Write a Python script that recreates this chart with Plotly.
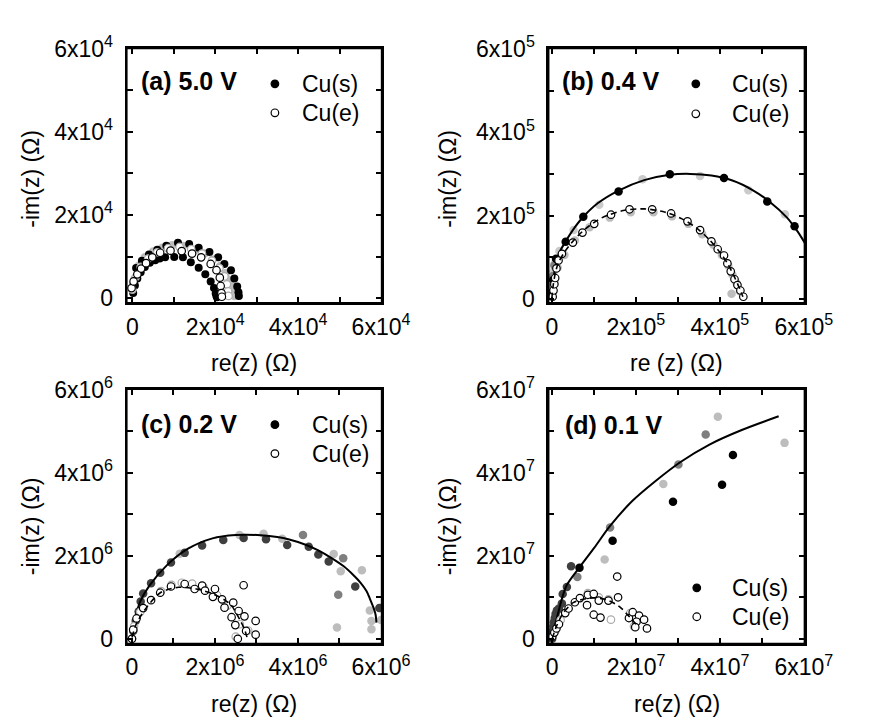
import plotly.graph_objects as go

FONT = "Liberation Sans, Arial, Helvetica, sans-serif"

# ---------------- Panel (a) 5.0 V  (values in units of 1e4 ohm) ----------------
a_scale = 1e4
a_s1_x = [0.02, 0.06, 0.12, 0.20, 0.30, 0.42, 0.55, 0.66, 0.79, 1.01, 1.22, 1.41, 1.60, 1.76, 1.89, 1.97, 2.01, 2.03, 2.04]
a_s1_y = [0.12, 0.30, 0.47, 0.62, 0.75, 0.85, 0.91, 0.95, 0.98, 0.99, 0.98, 0.86, 0.73, 0.57, 0.40, 0.24, 0.11, 0.05, 0.02]
a_s2_x = [0.03, 0.09, 0.23, 0.40, 0.60, 0.82, 1.10, 1.37, 1.60, 1.86, 2.07, 2.22, 2.38, 2.46, 2.53, 2.56, 2.57]
a_s2_y = [0.35, 0.72, 0.90, 1.05, 1.16, 1.26, 1.33, 1.30, 1.21, 1.11, 0.98, 0.82, 0.67, 0.47, 0.28, 0.14, 0.05]
a_s3_x = [0.05, 0.15, 0.30, 0.50, 0.72, 0.96, 1.22, 1.53, 1.74, 1.94, 2.12, 2.26, 2.36, 2.42, 2.45, 2.46]
a_s3_y = [0.45, 0.78, 0.98, 1.12, 1.21, 1.27, 1.25, 1.17, 1.07, 0.93, 0.77, 0.60, 0.43, 0.27, 0.14, 0.05]
a_e2_x = [0.00, 0.08, 0.20, 0.38, 0.60, 0.86, 1.14, 1.42, 1.68, 1.92, 2.10, 2.22, 2.28, 2.31, 2.32]
a_e2_y = [0.20, 0.50, 0.75, 0.95, 1.10, 1.20, 1.23, 1.18, 1.07, 0.90, 0.72, 0.52, 0.33, 0.16, 0.05]
a_e1_x = [-0.02, 0.03, 0.12, 0.21, 0.33, 0.48, 0.67, 0.92, 1.19, 1.44, 1.66, 1.89, 2.03, 2.11, 2.13, 2.15, 2.16]
a_e1_y = [0.24, 0.40, 0.57, 0.71, 0.84, 0.98, 1.09, 1.14, 1.13, 1.07, 0.98, 0.82, 0.67, 0.49, 0.29, 0.12, 0.03]

# ---------------- Panel (b) 0.4 V  (units of 1e5 ohm) ----------------
b_scale = 1e5
b_s1_x = [0.01, 0.03, 0.10, 0.33, 0.75, 1.59, 2.81, 4.10, 5.13, 5.78]
b_s1_y = [0.15, 0.45, 0.96, 1.37, 1.97, 2.58, 2.99, 2.90, 2.34, 1.74]
b_s2_x = [0.00, 0.01, 0.02, 0.04, 0.07, 0.18, 0.52, 1.13, 2.16, 3.53, 4.68, 5.55]
b_s2_y = [0.05, 0.25, 0.45, 0.65, 0.85, 1.15, 1.65, 2.26, 2.87, 2.95, 2.61, 2.03]
b_s3_x = [0.00, 0.01, 0.03, 0.06]
b_s3_y = [0.10, 0.30, 0.55, 0.80]
b_e2_x = [0.03, 0.07, 0.14, 0.30, 0.55, 0.90, 1.38, 1.88, 2.42, 2.86, 3.25, 3.58, 3.85, 4.05, 4.20, 4.30, 4.40, 4.48, 4.28]
b_e2_y = [0.15, 0.40, 0.75, 1.05, 1.40, 1.72, 1.95, 2.08, 2.08, 1.98, 1.80, 1.55, 1.30, 1.05, 0.80, 0.58, 0.38, 0.18, 0.12]
b_e1_x = [0.02, 0.04, 0.06, 0.08, 0.11, 0.16, 0.24, 0.50, 0.73, 1.01, 1.41, 1.85, 2.39, 2.84, 3.23, 3.53, 3.80, 3.95, 4.10, 4.18, 4.26, 4.35, 4.42, 4.49, 4.56]
b_e1_y = [0.05, 0.20, 0.35, 0.50, 0.73, 0.92, 1.08, 1.35, 1.59, 1.80, 2.02, 2.15, 2.15, 2.05, 1.86, 1.65, 1.38, 1.19, 1.04, 0.85, 0.66, 0.47, 0.33, 0.20, 0.05]
b_fit_s_x = [0.00, 0.03, 0.10, 0.20, 0.33, 0.50, 0.75, 1.10, 1.59, 2.20, 2.81, 3.30, 3.80, 4.30, 4.80, 5.20, 5.60, 5.85, 6.02]
b_fit_s_y = [0.05, 0.40, 0.85, 1.15, 1.38, 1.65, 1.97, 2.30, 2.60, 2.85, 2.98, 3.00, 2.96, 2.84, 2.60, 2.32, 1.95, 1.62, 1.35]
b_fit_e_x = [0.00, 0.03, 0.08, 0.15, 0.30, 0.50, 0.80, 1.20, 1.70, 2.20, 2.70, 3.10, 3.45, 3.75, 4.00, 4.20, 4.35, 4.47, 4.55]
b_fit_e_y = [0.00, 0.30, 0.60, 0.85, 1.12, 1.38, 1.68, 1.95, 2.12, 2.16, 2.08, 1.92, 1.70, 1.42, 1.12, 0.82, 0.52, 0.25, 0.05]

# ---------------- Panel (c) 0.2 V  (units of 1e6 ohm) ----------------
c_scale = 1e6
c_s1_x = [0.00, 0.03, 0.09, 0.16, 0.21, 0.27, 0.46, 0.68, 0.94, 1.27, 1.69, 2.20, 2.69, 3.23, 3.74, 4.26, 4.49, 4.74, 5.38, 5.96]
c_s1_y = [0.00, 0.19, 0.43, 0.66, 0.90, 1.09, 1.34, 1.59, 1.84, 2.07, 2.25, 2.38, 2.43, 2.40, 2.26, 2.22, 2.03, 1.86, 1.26, 0.74]
c_s2_x = [4.12, 5.09, 4.97, 6.02]
c_s2_y = [2.50, 1.94, 1.06, 0.75]
c_s3_x = [1.15, 2.59, 3.17, 3.62, 4.86, 5.03, 5.54, 5.73, 5.77, 5.77, 4.94, 6.00]
c_s3_y = [2.05, 2.50, 2.53, 2.41, 2.04, 1.63, 1.65, 0.68, 0.43, 0.23, 0.27, 0.45]
c_e2_x = [0.05, 0.20, 0.70, 0.95, 1.20, 1.45, 1.72, 2.05, 2.30, 2.60, 2.80, 2.50]
c_e2_y = [0.30, 0.65, 1.15, 1.30, 1.35, 1.33, 1.25, 1.05, 0.80, 0.35, 0.20, 0.05]
c_e1_x = [0.00, 0.03, 0.11, 0.27, 0.46, 0.68, 0.94, 1.27, 1.51, 1.69, 1.76, 2.00, 1.95, 2.17, 2.23, 2.44, 2.40, 2.57, 2.49, 2.71, 2.98, 2.75, 2.98, 2.55, 2.69]
c_e1_y = [0.00, 0.22, 0.49, 0.74, 0.93, 1.11, 1.26, 1.32, 1.20, 1.28, 1.16, 1.20, 1.01, 0.95, 0.75, 0.87, 0.52, 0.67, 0.33, 0.54, 0.43, 0.19, 0.10, 0.00, 1.29]
c_fit_s_x = [0.00, 0.08, 0.20, 0.42, 0.85, 1.35, 1.94, 2.50, 3.02, 3.50, 3.79, 4.20, 4.49, 4.80, 5.11, 5.35, 5.50, 5.65, 5.73, 5.82, 5.87, 5.89]
c_fit_s_y = [0.05, 0.50, 0.90, 1.28, 1.78, 2.17, 2.42, 2.50, 2.50, 2.45, 2.39, 2.26, 2.13, 1.95, 1.74, 1.52, 1.36, 1.15, 0.97, 0.75, 0.58, 0.39]
c_fit_e_x = [0.00, 0.10, 0.23, 0.45, 0.70, 1.12, 1.55, 1.93, 2.24, 2.40, 2.51, 2.62, 2.71, 2.77]
c_fit_e_y = [0.03, 0.35, 0.58, 0.88, 1.12, 1.24, 1.20, 1.09, 0.93, 0.80, 0.62, 0.42, 0.23, 0.04]

# ---------------- Panel (d) 0.1 V  (units of 1e7 ohm) ----------------
d_scale = 1e7
d_s1_x = [0.65, 1.44, 2.88, 4.05, 4.31]
d_s1_y = [1.71, 2.36, 3.30, 3.71, 4.43]
d_s2_x = [0.00, 0.01, 0.02, 0.03, 0.04, 0.06, 0.08, 0.11, 0.16, 0.23, 0.25, 0.35, 0.45]
d_s2_y = [0.00, 0.10, 0.20, 0.30, 0.40, 0.50, 0.60, 0.68, 0.73, 0.85, 1.08, 1.25, 1.75]
d_s3_x = [0.60, 1.38, 3.01, 3.66]
d_s3_y = [1.49, 2.68, 4.20, 4.92]
d_s4_x = [1.25, 2.65, 3.95, 5.54]
d_s4_y = [1.91, 3.73, 5.35, 4.72]
d_e2_x = [0.08, 0.20, 0.85, 1.11, 1.34, 1.40, 1.86, 1.95]
d_e2_y = [0.20, 0.45, 1.10, 1.00, 0.95, 0.46, 0.62, 0.30]
d_e1_x = [0.00, 0.05, 0.10, 0.16, 0.31, 0.39, 0.54, 0.66, 0.85, 0.99, 1.11, 1.34, 1.57, 1.55, 0.83, 0.99, 1.15, 1.83, 1.92, 2.07, 2.01, 2.19, 1.98, 2.26]
d_e1_y = [0.05, 0.15, 0.25, 0.35, 0.62, 0.73, 0.88, 0.98, 1.06, 1.08, 0.92, 0.92, 1.00, 1.50, 0.81, 0.58, 0.51, 0.50, 0.64, 0.56, 0.41, 0.46, 0.28, 0.25]
d_fit_s_x = [0.00, 0.04, 0.10, 0.20, 0.34, 0.65, 1.00, 1.38, 1.92, 2.45, 3.06, 3.75, 4.52, 5.40]
d_fit_s_y = [0.00, 0.20, 0.45, 0.85, 1.28, 1.72, 2.19, 2.72, 3.33, 3.79, 4.26, 4.68, 5.03, 5.36]
d_fit_e_x = [0.00, 0.10, 0.25, 0.50, 0.91, 1.27, 1.61, 1.85, 2.07]
d_fit_e_y = [0.00, 0.30, 0.60, 0.87, 0.98, 0.95, 0.77, 0.52, 0.27]

panel_labels = ["(a) 5.0 V", "(b) 0.4 V", "(c) 0.2 V", "(d) 0.1 V"]
x_titles = ["re(z) (Ω)", "re (z) (Ω)", "re(z) (Ω)", "re(z) (Ω)"]
y_title = "-im(z) (Ω)"
exponents = [4, 5, 6, 7]
legend_labels = ["Cu(s)", "Cu(e)"]

BLACK, DARK, MID, LIGHT, PALE = "#000000", "#3f3f3f", "#7f7f7f", "#bdbdbd", "#cbcbcb"

W, H = 869, 722
OFF = 8  # the page body margin shifts the figure by 8 px


def px(xp):
    return (xp - OFF) / W


def py(yp):
    return 1 - (yp - OFF) / H


fig = go.Figure()


def ax_names(i):
    return ("x" if i == 0 else f"x{i+1}", "y" if i == 0 else f"y{i+1}")


def add_filled(i, xs, ys, scale, color, size=8.5):
    xa, ya = ax_names(i)
    fig.add_trace(go.Scatter(
        x=[v * scale for v in xs], y=[v * scale for v in ys], mode="markers",
        xaxis=xa, yaxis=ya, showlegend=False, cliponaxis=True,
        marker=dict(size=size, color=color, line=dict(width=0))))


def add_open(i, xs, ys, scale, edge, size=7.5):
    xa, ya = ax_names(i)
    fig.add_trace(go.Scatter(
        x=[v * scale for v in xs], y=[v * scale for v in ys], mode="markers",
        xaxis=xa, yaxis=ya, showlegend=False, cliponaxis=True,
        marker=dict(size=size, color="white", line=dict(width=1.2, color=edge))))


def add_fit(i, xs, ys, scale, dash):
    xa, ya = ax_names(i)
    fig.add_trace(go.Scatter(
        x=[v * scale for v in xs], y=[v * scale for v in ys], mode="lines",
        xaxis=xa, yaxis=ya, showlegend=False,
        line=dict(color="black", width=2 if dash == "solid" else 1.6,
                  dash=dash, shape="spline", smoothing=0.8)))


# panel a
add_filled(0, a_s3_x, a_s3_y, a_scale, LIGHT)
add_filled(0, a_s2_x, a_s2_y, a_scale, BLACK, 8)
add_filled(0, a_s1_x, a_s1_y, a_scale, BLACK, 8)
add_open(0, a_e2_x, a_e2_y, a_scale, "#aaaaaa")
add_open(0, a_e1_x, a_e1_y, a_scale, BLACK)
# panel b
add_filled(1, b_s2_x, b_s2_y, b_scale, PALE)
add_filled(1, b_s3_x, b_s3_y, b_scale, MID)
add_filled(1, b_e2_x, b_e2_y, b_scale, LIGHT)
add_fit(1, b_fit_s_x, b_fit_s_y, b_scale, "solid")
add_filled(1, b_s1_x, b_s1_y, b_scale, BLACK)
add_open(1, b_e1_x, b_e1_y, b_scale, BLACK)
add_fit(1, b_fit_e_x, b_fit_e_y, b_scale, "6px,4px")
# panel c
add_filled(2, c_s3_x, c_s3_y, c_scale, LIGHT)
add_filled(2, c_s2_x, c_s2_y, c_scale, MID)
add_filled(2, c_s1_x, c_s1_y, c_scale, DARK)
add_fit(2, c_fit_s_x, c_fit_s_y, c_scale, "solid")
add_open(2, c_e2_x, c_e2_y, c_scale, "#aaaaaa")
add_open(2, c_e1_x, c_e1_y, c_scale, BLACK)
add_fit(2, c_fit_e_x, c_fit_e_y, c_scale, "6px,4px")
# panel d
add_filled(3, d_s4_x, d_s4_y, d_scale, LIGHT)
add_filled(3, d_s3_x, d_s3_y, d_scale, MID)
add_filled(3, d_s2_x, d_s2_y, d_scale, DARK)
add_fit(3, d_fit_s_x, d_fit_s_y, d_scale, "solid")
add_filled(3, d_s1_x, d_s1_y, d_scale, BLACK)
add_open(3, d_e2_x, d_e2_y, d_scale, "#aaaaaa")
add_open(3, d_e1_x, d_e1_y, d_scale, BLACK)
add_fit(3, d_fit_e_x, d_fit_e_y, d_scale, "6px,4px")

# subplot boxes in screen pixels of the reference
box_left = [128, 566, 128, 566]
box_right = [393, 832, 393, 832]
box_top = [33, 33, 386, 386]
box_bottom = [297, 297, 650, 650]
x_lo = [-0.14, -0.08, -0.13, -0.09]
x_hi = 6.02
y_lo = [-0.12, -0.10, -0.12, -0.12]
y_hi = 6.02

# legend rows: (marker x, text x, row-1 y, row-2 y) in reference pixels
legend_rows = [(282, 308, 70, 100), (719, 755, 70, 101), (282, 318, 423, 453), (720, 755, 592, 622)]
label_pos = [(141, 67), (578, 67), (141, 422), (581, 423)]

layout = dict(width=W, height=H, margin=dict(l=0, r=0, t=0, b=0),
              paper_bgcolor="white", plot_bgcolor="white",
              font=dict(family=FONT, size=23, color="black"),
              annotations=[], shapes=[], showlegend=False)

for i in range(4):
    scale = 10 ** exponents[i]
    vals = [k * scale for k in range(7)]
    texts = ["0" if k == 0 else (f"{k}x10<sup>{exponents[i]}</sup>" if k % 2 == 0 else "") for k in range(7)]
    common = dict(showline=True, linecolor="black", linewidth=2, mirror="ticks",
                  ticks="inside", ticklen=6, tickwidth=1.5, tickcolor="black",
                  tickmode="array", tickvals=vals, ticktext=texts,
                  showgrid=False, zeroline=False, fixedrange=True,
                  tickfont=dict(family=FONT, size=23, color="black"))
    xa, ya = ax_names(i)
    xkey = "xaxis" if i == 0 else f"xaxis{i+1}"
    ykey = "yaxis" if i == 0 else f"yaxis{i+1}"
    layout[xkey] = dict(common, domain=[px(box_left[i]), px(box_right[i])], anchor=ya,
                        range=[x_lo[i] * scale, x_hi * scale], ticklabelstandoff=2)
    layout[ykey] = dict(common, domain=[py(box_bottom[i]), py(box_top[i])], anchor=xa,
                        range=[y_lo[i] * scale, y_hi * scale], ticklabelstandoff=7)
    # frame rectangle in paper coordinates
    layout["shapes"].append(dict(type="rect", xref="paper", yref="paper",
                                 x0=px(box_left[i]), x1=px(box_right[i]),
                                 y0=py(box_bottom[i]), y1=py(box_top[i]),
                                 line=dict(color="black", width=2), layer="above"))
    # panel label
    layout["annotations"].append(dict(
        text=f"<b>{panel_labels[i]}</b>", xref="paper", yref="paper",
        x=px(label_pos[i][0]), y=py(label_pos[i][1]), xanchor="left", yanchor="middle",
        showarrow=False, font=dict(family=FONT, size=25, color="black")))
    # axis titles
    xc = (box_left[i] + box_right[i]) / 2
    top_row = i < 2
    layout["annotations"].append(dict(
        text=x_titles[i], xref="paper", yref="paper", x=px(xc),
        y=py(359 if top_row else 712), xanchor="center", yanchor="middle",
        showarrow=False, font=dict(family=FONT, size=23, color="black")))
    layout["annotations"].append(dict(
        text=y_title, xref="paper", yref="paper",
        x=px(29 if i % 2 == 0 else 462),
        y=py(168 if top_row else 528), xanchor="center", yanchor="middle",
        textangle=-90, showarrow=False, font=dict(family=FONT, size=23, color="black")))
    # legend
    mx, tx, r1, r2 = legend_rows[i]
    for r, (lab, filled) in enumerate(zip(legend_labels, [True, False])):
        yy = r1 if r == 0 else r2
        layout["shapes"].append(dict(
            type="circle", xref="paper", yref="paper", xsizemode="pixel", ysizemode="pixel",
            xanchor=px(mx), yanchor=py(yy), x0=-3.8, x1=3.8, y0=-3.8, y1=3.8,
            fillcolor="black" if filled else "white", line=dict(color="black", width=1.2)))
        layout["annotations"].append(dict(
            text=lab, xref="paper", yref="paper", x=px(tx), y=py(yy),
            xanchor="left", yanchor="middle", showarrow=False,
            font=dict(family=FONT, size=23, color="black")))

fig.update_layout(**layout)
fig.write_html("out.html")
